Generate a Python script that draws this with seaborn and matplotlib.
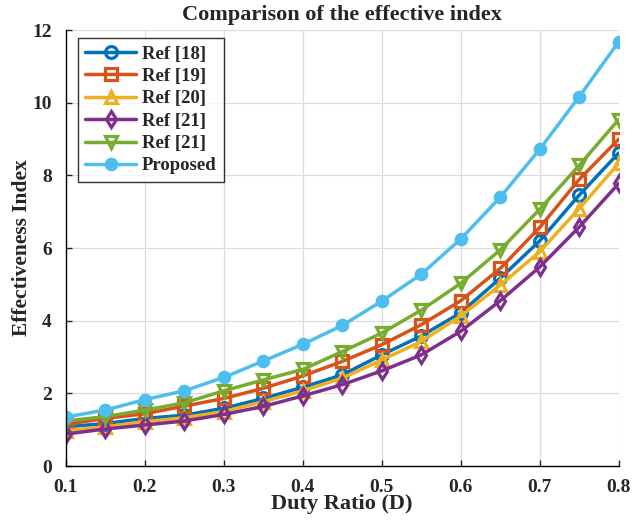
import numpy as np
import pandas as pd
import matplotlib
matplotlib.use("Agg")
import matplotlib.pyplot as plt
import seaborn as sns

duty = [0.1, 0.15, 0.2, 0.25, 0.3, 0.35, 0.4, 0.45, 0.5, 0.55, 0.6, 0.65, 0.7, 0.75, 0.8]
ref18 = [1.08, 1.17, 1.31, 1.40, 1.59, 1.86, 2.17, 2.51, 3.06, 3.58, 4.22, 5.17, 6.20, 7.46, 8.62]
ref19 = [1.15, 1.31, 1.44, 1.65, 1.86, 2.14, 2.48, 2.88, 3.34, 3.89, 4.55, 5.44, 6.57, 7.89, 9.00]
ref20 = [0.97, 1.08, 1.22, 1.33, 1.50, 1.77, 2.07, 2.42, 2.92, 3.43, 4.13, 4.98, 5.90, 7.09, 8.33]
ref21a = [0.88, 1.02, 1.13, 1.24, 1.42, 1.64, 1.93, 2.24, 2.62, 3.06, 3.71, 4.55, 5.48, 6.58, 7.78]
ref21b = [1.24, 1.36, 1.54, 1.74, 2.07, 2.37, 2.66, 3.15, 3.66, 4.29, 5.03, 5.95, 7.07, 8.28, 9.54]
proposed = [1.35, 1.54, 1.83, 2.07, 2.44, 2.89, 3.35, 3.87, 4.54, 5.28, 6.25, 7.40, 8.72, 10.17, 11.68]

labels = ["Ref [18]", "Ref [19]", "Ref [20]", "Ref [21]", "Ref [21] ", "Proposed"]
series = [ref18, ref19, ref20, ref21a, ref21b, proposed]
colors = ["#0072BD", "#D95319", "#EDB120", "#7E2F8E", "#77AC30", "#4DBEEE"]
markers = ["o", "s", "^", "d", "v", "o"]

sns.set_style("ticks")
plt.rcParams["font.family"] = ["Liberation Serif", "DejaVu Serif"]
plt.rcParams["font.weight"] = "bold"

fig = plt.figure(figsize=(6.32, 5.29), dpi=100)
ax = fig.add_axes([0.104, 0.119, 0.875, 0.824])

for lab, vals, c, m in zip(labels, series, colors, markers):
    df = pd.DataFrame({"D": duty, "E": vals})
    filled = lab == "Proposed"
    sns.lineplot(data=df, x="D", y="E", ax=ax, color=c, marker=m,
                 markersize=8.5 if not filled else 7.5, linewidth=2.5,
                 markerfacecolor=c if filled else "none",
                 markeredgecolor=c, markeredgewidth=2.3,
                 label=lab.strip())

ax.set_xlim(0.1, 0.8)
ax.set_ylim(0, 12)
ax.set_xticks([0.1, 0.2, 0.3, 0.4, 0.5, 0.6, 0.7, 0.8])
ax.set_xticklabels(["0.1", "0.2", "0.3", "0.4", "0.5", "0.6", "0.7", "0.8"])
ax.set_yticks([0, 2, 4, 6, 8, 10, 12])
ax.grid(True, color="#dcdcdc", linewidth=0.9)
ax.set_axisbelow(True)
for s in ["top", "right"]:
    ax.spines[s].set_visible(False)
for s in ["left", "bottom"]:
    ax.spines[s].set_color("black")
    ax.spines[s].set_linewidth(1.0)
ax.tick_params(direction="in", length=4, labelsize=14, width=1)
ax.tick_params(axis="x", pad=9)
ax.tick_params(axis="y", pad=10)
for t in ax.get_xticklabels() + ax.get_yticklabels():
    t.set_fontweight("bold")

ax.set_xlabel("Duty Ratio (D)", fontsize=16, fontweight="bold", labelpad=-1)
ax.set_ylabel("Effectiveness Index", fontsize=15.5, fontweight="bold", labelpad=0)
ax.set_title("Comparison of the effective index", fontsize=16, fontweight="bold", pad=7)

leg = ax.legend(loc="upper left", bbox_to_anchor=(0.022, 0.982), borderaxespad=0,
                frameon=True, fancybox=False, edgecolor="black",
                prop={"weight": "bold", "size": 13.5},
                handlelength=2.7, borderpad=0.4, labelspacing=0.28, handletextpad=0.3)
leg.get_frame().set_linewidth(1.0)

fig.savefig("out.png", dpi=100)
